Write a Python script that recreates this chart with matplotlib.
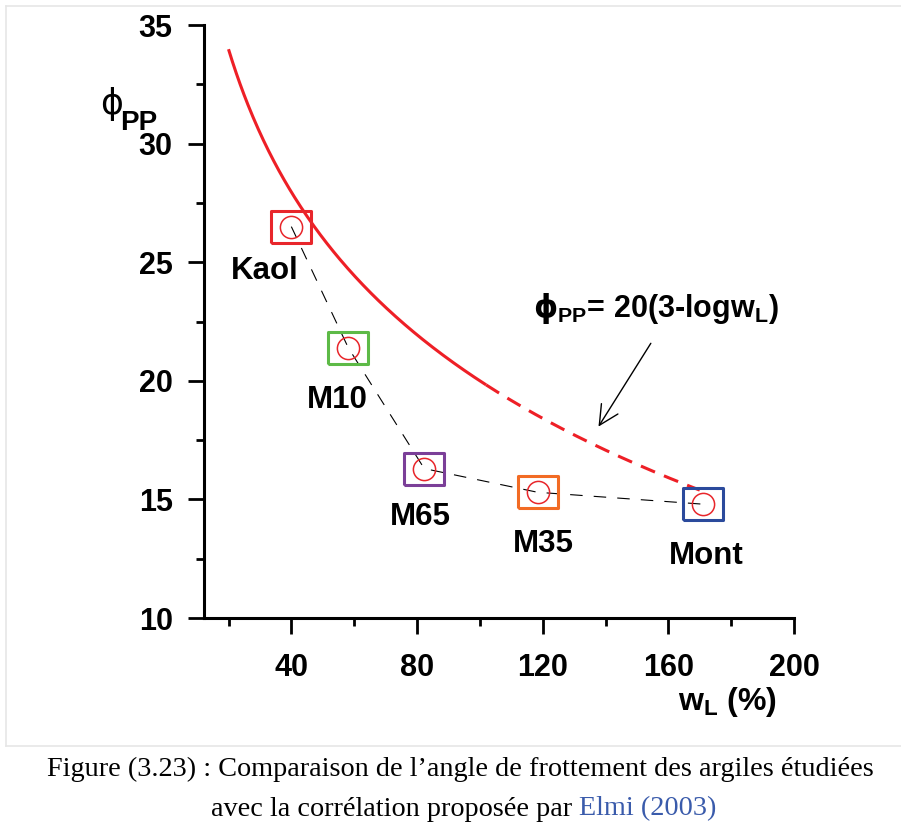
import matplotlib
matplotlib.use('Agg')
import matplotlib.pyplot as plt
import numpy as np
from matplotlib.lines import Line2D
from matplotlib.ticker import MultipleLocator

plt.rcParams['font.family'] = ['Liberation Sans', 'DejaVu Sans']
plt.rcParams['font.weight'] = 'bold'
plt.rcParams['mathtext.fontset'] = 'custom'
plt.rcParams['mathtext.rm'] = 'DejaVu Sans'
plt.rcParams['mathtext.bf'] = 'Liberation Sans:bold'
plt.rcParams['mathtext.it'] = 'DejaVu Sans:italic'
plt.rcParams['lines.scale_dashes'] = False

# argiles étudiées
argiles = ['Kaol', 'M10', 'M65', 'M35', 'Mont']
wL = [40.0, 58.1, 82.3, 118.4, 170.9]
phi_pp = [26.5, 21.4, 16.3, 15.3, 14.8]
couleurs = ['#e8262b', '#5dba47', '#7b3f98', '#f26b24', '#2b4a9c']
# décalage des étiquettes (points)
decalages = [(-19, -32), (-8, -38), (-3, -35), (4, -37), (3, -37)]

# corrélation de Elmi (2003) : phi = 20(3 - log wL)
wL_debut, wL_fin_plein, wL_fin = 20, 102, 170


def correlation(w):
    return 20 * (3 - np.log10(w))


W = 901
H = 836
fig = plt.figure(figsize=(W / 100, H / 100), dpi=100)
ax = fig.add_axes([204 / W, 1 - 618 / H, 590 / W, 593 / H])

rouge = '#ee1f26'
w1 = np.linspace(wL_debut, wL_fin_plein, 200)
w2 = np.linspace(wL_fin_plein, wL_fin, 200)
ax.plot(w1, correlation(w1), color=rouge, lw=2.2, solid_capstyle='butt')
ax.plot(w2, correlation(w2), color=rouge, lw=2.2, dashes=(11, 7))

# liaison en tirets entre les points
ax.plot(wL, phi_pp, color='black', lw=0.8, dashes=(9, 8), zorder=3)

rect = [(-1, -0.8), (1, -0.8), (1, 0.8), (-1, 0.8), (-1, -0.8)]
for x, y, c, nom, d in zip(wL, phi_pp, couleurs, argiles, decalages):
    ax.plot(x, y, marker=rect, ms=29, mfc='none', mec=c, mew=2.2, ls='none', zorder=4)
    ax.annotate(nom, xy=(x, y), xytext=d, textcoords='offset points',
                ha='center', va='center', fontsize=22.5, fontweight='bold')
ax.plot(wL, phi_pp, 'o', ms=16, mfc='none', mec='#e8262b', mew=1.1, ls='none', zorder=5)

ax.set_xlim(12.2, 200)
ax.set_ylim(10, 35)
ax.xaxis.set_major_locator(MultipleLocator(40))
ax.xaxis.set_minor_locator(MultipleLocator(20))
ax.yaxis.set_major_locator(MultipleLocator(5))
ax.yaxis.set_minor_locator(MultipleLocator(2.5))
ax.tick_params(which='major', direction='out', length=11.5, width=2.0, labelsize=22)
ax.tick_params(which='minor', direction='out', length=5.8, width=2.0)
ax.tick_params(axis='y', which='major', pad=11)
ax.tick_params(axis='x', which='major', pad=14)
for s in ['top', 'right']:
    ax.spines[s].set_visible(False)
for s in ['left', 'bottom']:
    ax.spines[s].set_linewidth(2.2)

# flèche vers la courbe
ax.annotate('', xy=(137.3, 17.97), xytext=(154.9, 21.68),
            arrowprops=dict(arrowstyle='->,head_length=0.7,head_width=0.35',
                            color='black', lw=1.0, mutation_scale=20))

fig.text(533 / W, 1 - 317 / H, r'$\mathrm{\phi}_{\mathbf{PP}}$= 20(3-logw$_{\mathbf{L}}$)',
         fontsize=22, fontweight='bold', ha='left', va='baseline')

# titres des axes
fig.text(100 / W, 1 - 114 / H, '\u03d5', family='DejaVu Sans', fontweight='normal',
         fontsize=25, ha='left', va='baseline')
fig.text(120 / W, 1 - 130 / H, 'PP', fontsize=20, fontweight='bold', ha='left', va='baseline')
fig.text(678 / W, 1 - 710 / H, r'w$_{\mathbf{L}}$ (%)', fontsize=23, fontweight='bold',
         ha='left', va='baseline')

# cadre gris
gris = '#e6e6e6'
fig.add_artist(Line2D([6 / W, 1], [1 - 6 / H] * 2, transform=fig.transFigure, color=gris, lw=1.2))
fig.add_artist(Line2D([6 / W] * 2, [1 - 6 / H, 1 - 746 / H], transform=fig.transFigure, color=gris, lw=1.2))
fig.add_artist(Line2D([6 / W, 1], [1 - 746 / H] * 2, transform=fig.transFigure, color=gris, lw=1.2))

# légende de la figure
fig.text(460 / W, 1 - 769 / H,
         'Figure (3.23) : Comparaison de l\u2019angle de frottement des argiles étudiées',
         family='Liberation Serif', fontweight='normal', fontsize=20.3, ha='center', va='center')
fig.text(572 / W, 1 - 809 / H, 'avec la corrélation proposée par',
         family='Liberation Serif', fontweight='normal', fontsize=20.3, ha='right', va='center')
fig.text(579 / W, 1 - 809 / H, 'Elmi (2003)', color='#3a5bab',
         family='Liberation Serif', fontweight='normal', fontsize=20.3, ha='left', va='center')

fig.savefig('out.png', dpi=100)
